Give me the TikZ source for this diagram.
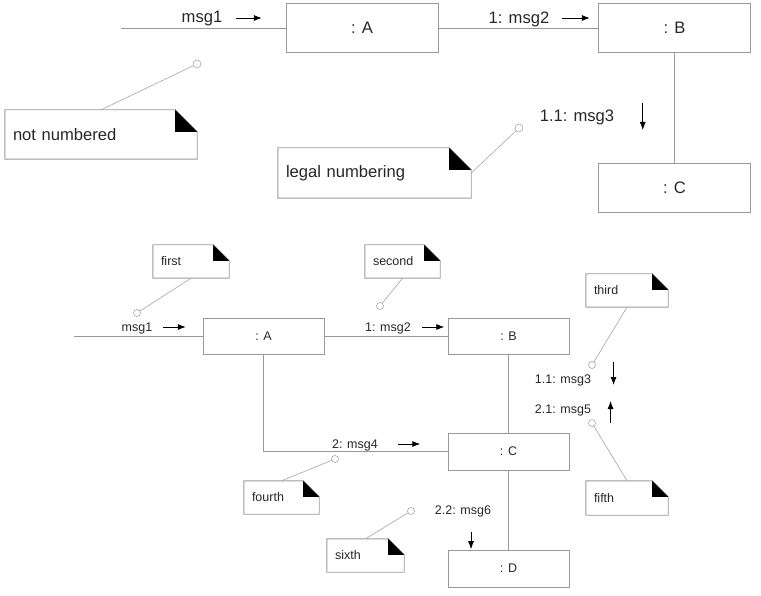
\documentclass[tikz,border=0pt]{standalone}
\usepackage{fontspec}
\setmainfont{Liberation Sans}
\usetikzlibrary{arrows.meta}
\tikzset{
  obj/.style={draw=gray!80, line width=0.9pt, inner sep=0pt},
  link/.style={draw=gray!80, line width=0.9pt},
  anno/.style={draw=gray!70, line width=0.6pt},
  big/.style={font=\fontsize{16.6}{19}\selectfont},
  small/.style={font=\fontsize{12.5}{15}\selectfont},
  flow/.style={line width=0.8pt, -{Latex[length=8pt,width=6pt]}},
  note/.style={inner xsep=8pt, inner ysep=0pt, align=left},
}
\newcommand{\dogear}[2]{%
  \draw[link] (#1.north west) -- ([xshift=-#2]#1.north east) -- ([yshift=-#2]#1.north east)
    -- (#1.south east) -- (#1.south west) -- cycle;
  \fill ([xshift=-#2]#1.north east) -- ([xshift=-#2,yshift=-#2]#1.north east)
    -- ([yshift=-#2]#1.north east) -- cycle;}
\begin{document}
\begin{tikzpicture}[x=1pt,y=-1pt,text=black!85]
\useasboundingbox (0,0) rectangle (761,596);
\node[obj,big,minimum width=152,minimum height=49] (tA) at (362,28) {: A};
\node[obj,big,minimum width=152,minimum height=49] (tB) at (674.5,28) {: B};
\node[obj,big,minimum width=152,minimum height=49] (tC) at (674.5,188) {: C};
\coordinate (tin) at (121,28);
\draw[link] (tin) -- (tA.west);
\draw[link] (tA.east) -- (tB.west);
\draw[link] (tB.south) -- (tC.north);
\node[big] (tm1) at (202,19) {msg1};
\node[big] (tm2) at (519,19) {1: msg2};
\node[big] (tm3) at (577,117) {1.1: msg3};
\draw[flow] ([xshift=10pt,yshift=1pt]tm1.east) -- ++(26,0);
\draw[flow] ([xshift=9pt,yshift=1pt]tm2.east) -- ++(28,0);
\draw[flow] ([xshift=25pt,yshift=14pt]tm3.east) -- ++(0,27);
\node[note,big,text width=176,minimum height=49] (n1) at (101,134.5) {not numbered};
\node[note,big,text width=177,minimum height=50] (n2) at (374.5,173) {legal numbering};
\dogear{n1}{22pt}
\dogear{n2}{22pt}
\coordinate (k1) at (197,64);
\coordinate (k2) at (519,128);
\draw[anno] (n1.north) -- (k1);
\draw[anno] (n2.east) -- (k2);
\draw[anno,fill=white] (k1) circle (4pt);
\draw[anno,fill=white] (k2) circle (4pt);
\node[obj,small,minimum width=121,minimum height=36] (A) at (263.5,336) {: A};
\node[obj,small,minimum width=121,minimum height=36] (B) at (508.5,336) {: B};
\node[obj,small,minimum width=121,minimum height=37] (C) at (508.5,451.5) {: C};
\node[obj,small,minimum width=121,minimum height=37] (D) at (508.5,568.5) {: D};
\coordinate (in) at (74,336);
\draw[link] (in) -- (A.west);
\draw[link] (A.east) -- (B.west);
\draw[link] (A.south) |- (C.west);
\draw[link] (B.south) -- (C.north);
\draw[link] (C.south) -- (D.north);
\node[small] (m1) at (137,328) {msg1};
\node[small] (m2) at (388,328) {1: msg2};
\node[small] (m4) at (355,445) {2: msg4};
\node[small] (m3) at (563,380) {1.1: msg3};
\node[small] (m5) at (563,410) {2.1: msg5};
\node[small] (m6) at (463,511) {2.2: msg6};
\draw[flow] ([xshift=7pt,yshift=1pt]m1.east) -- ++(23,0);
\draw[flow] ([xshift=8pt,yshift=1pt]m2.east) -- ++(22,0);
\draw[flow] ([xshift=17pt,yshift=1pt]m4.east) -- ++(22,0);
\draw[flow] ([xshift=19pt,yshift=18pt]m3.east) -- ++(0,23);
\draw[flow] ([xshift=16pt,yshift=-13pt]m5.east) -- ++(0,-22);
\draw[flow] ([xshift=8pt,yshift=-12pt]m6.south) -- ++(0,17);
\node[note,small,text width=60,minimum height=33] (first) at (191,261.5) {first};
\node[note,small,text width=59,minimum height=33] (second) at (402.5,261.5) {second};
\node[note,small,text width=66,minimum height=33] (third) at (627,290.5) {third};
\node[note,small,text width=66,minimum height=34] (fifth) at (627,498) {fifth};
\node[note,small,text width=59,minimum height=33] (fourth) at (281.5,497.5) {fourth};
\node[note,small,text width=61,minimum height=33] (sixth) at (365.5,555.5) {sixth};
\foreach \n in {first,second,third,fifth,fourth,sixth}
  \dogear{\n}{16pt}
\coordinate (k3) at (137,313);
\coordinate (k4) at (380,306);
\coordinate (k5) at (592,365);
\coordinate (k6) at (592,423);
\coordinate (k7) at (335,459);
\coordinate (k8) at (411,511);
\draw[anno] (first.south) -- (k3);
\draw[anno] (second.south) -- (k4);
\draw[anno] (third.south) -- (k5);
\draw[anno] (fifth.north) -- (k6);
\draw[anno] (fourth.north) -- (k7);
\draw[anno] (sixth.north) -- (k8);
\foreach \k in {k3,k4,k5,k6,k7,k8}
  \draw[anno,fill=white] (\k) circle (3.5pt);
\end{tikzpicture}
\end{document}
